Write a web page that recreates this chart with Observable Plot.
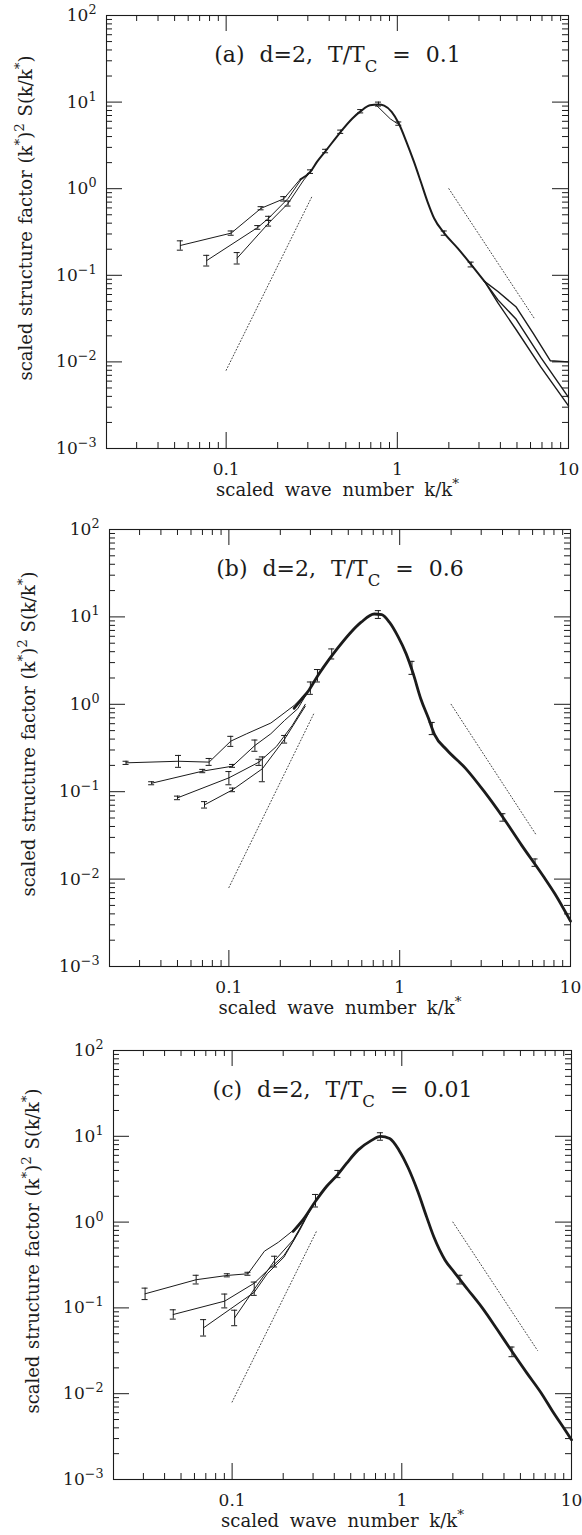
<!DOCTYPE html>
<html><head><meta charset="utf-8">
<script src="https://cdn.jsdelivr.net/npm/d3@7"></script>
<script src="https://cdn.jsdelivr.net/npm/@observablehq/plot@0.6"></script>
<style>
body{margin:0;background:#fff;}
#wrap{position:relative;width:582px;height:1535px;overflow:hidden;background:#fff;}
#wrap svg{position:absolute;left:0;}
</style></head><body><div id="wrap"></div>
<script>
// ---------- tick values ----------
const xMajor = [0.1, 1, 10];
const xMinor = [0.03,0.04,0.05,0.06,0.07,0.08,0.09,0.2,0.3,0.4,0.5,0.6,0.7,0.8,0.9,2,3,4,5,6,7,8,9];
const xTickLabels = ["0.1", "1", "10"];
const yMajor = [1e-3, 1e-2, 1e-1, 1, 10, 100];
const yTickLabels = ["10^{−3}", "10^{−2}", "10^{−1}", "10^{0}", "10^{1}", "10^{2}"];
const yMinor = [2e-3,3e-3,4e-3,5e-3,6e-3,7e-3,8e-3,9e-3,2e-2,3e-2,4e-2,5e-2,6e-2,7e-2,8e-2,9e-2,
  0.2,0.3,0.4,0.5,0.6,0.7,0.8,0.9,2,3,4,5,6,7,8,9,20,30,40,50,60,70,80,90];

// ---------- reference power laws (dotted) ----------
const guideLow = [[0.1, 0.008], [0.316, 0.8]];
const guideHigh = [[2, 1.0], [6.3, 0.032]];

// ---------- panel (a) ----------
const aBranch1 = [[0.054,0.221],[0.107,0.307],[0.160,0.594],[0.217,0.764],[0.272,1.30]];
const aBranch2 = [[0.077,0.148],[0.153,0.357],[0.177,0.456],[0.230,0.77],[0.272,1.25]];
const aBranch3 = [[0.116,0.158],[0.177,0.40],[0.230,0.676],[0.284,1.26],[0.311,1.57]];
const aMain = [[0.272,1.28],[0.311,1.57],[0.340,2.05],[0.381,2.72],[0.467,4.54],[0.546,6.46],[0.611,7.86],
  [0.692,9.2],[0.776,9.4],[0.838,9.1],[0.927,7.7],[1.02,5.66],[1.13,3.48],[1.25,2.05],[1.37,1.21],
  [1.50,0.71],[1.64,0.456],[1.88,0.307],[2.25,0.206],[2.70,0.133],[3.23,0.085]];
const aCoarse = [[0.75,9.3],[0.91,6.4],[1.02,5.5]];
const aTail1 = [[3.23,0.085],[3.87,0.065],[4.95,0.043],[6.25,0.021],[7.84,0.0103],[10,0.0100]];
const aTail2 = [[3.23,0.085],[3.87,0.052],[4.95,0.031],[6.9,0.0112],[10,0.0039]];
const aTail3 = [[3.23,0.085],[3.87,0.048],[4.95,0.0235],[6.9,0.0087],[10,0.0031]];
const aErr = [[0.054,0.195,0.25],[0.107,0.29,0.325],[0.160,0.57,0.62],[0.217,0.72,0.81],
  [0.077,0.128,0.17],[0.153,0.34,0.375],[0.177,0.43,0.48],[0.116,0.135,0.183],[0.177,0.37,0.43],
  [0.230,0.63,0.72],[0.311,1.5,1.65],[0.381,2.6,2.85],[0.467,4.35,4.75],[0.611,7.5,8.2],[0.776,9.0,10.0],
  [1.02,5.4,5.9],[1.88,0.29,0.325],[2.70,0.125,0.142]];

// ---------- panel (b) ----------
const bBranch1 = [[0.025,0.214],[0.0507,0.223],[0.0766,0.218],[0.1026,0.379],[0.127,0.46],[0.176,0.61],[0.202,0.746],[0.241,0.97],[0.267,1.18]];
const bBranch2 = [[0.0353,0.125],[0.0703,0.172],[0.105,0.196],[0.142,0.338],[0.176,0.46],[0.212,0.655],[0.253,0.89],[0.294,1.45]];
const bBranch3 = [[0.050,0.085],[0.100,0.144],[0.150,0.218],[0.190,0.33],[0.235,0.573],[0.280,1.0]];
const bBranch4 = [[0.072,0.0707],[0.105,0.105],[0.157,0.183],[0.212,0.40],[0.280,0.95]];
const bMain = [[0.241,0.90],[0.267,1.15],[0.294,1.45],[0.33,2.1],[0.36,2.7],[0.43,4.3],[0.512,6.5],[0.595,8.7],
  [0.71,10.8],[0.785,10.6],[0.87,8.7],[0.98,5.9],[1.09,3.8],[1.2,2.24],[1.33,1.15],[1.47,0.70],[1.6,0.45],[1.89,0.30],
  [2.43,0.185],[3.13,0.100],[4.02,0.051],[5.17,0.0245],[7.0,0.0105],[8.1,0.0068],[10,0.0033]];
const bErr = [[0.025,0.205,0.223],[0.0507,0.19,0.26],[0.0766,0.2,0.24],[0.1026,0.33,0.43],
  [0.0353,0.12,0.13],[0.0703,0.165,0.18],[0.105,0.19,0.205],[0.142,0.29,0.39],
  [0.050,0.081,0.089],[0.100,0.12,0.17],[0.150,0.2,0.235],
  [0.072,0.065,0.077],[0.105,0.1,0.11],[0.157,0.13,0.25],[0.212,0.36,0.44],
  [0.30,1.3,1.8],[0.33,1.8,2.5],[0.40,3.3,4.3],[0.75,9.6,11.8],[1.18,2.2,3.1],[1.55,0.45,0.62],
  [4.02,0.046,0.056],[6.2,0.014,0.017]];

// ---------- panel (c) ----------
const cBranch1 = [[0.0307,0.146],[0.0614,0.213],[0.0937,0.239],[0.124,0.25],[0.155,0.458],[0.1875,0.583],[0.229,0.80],[0.267,1.12]];
const cBranch2 = [[0.045,0.0838],[0.0905,0.12],[0.135,0.194],[0.16,0.268],[0.202,0.408],[0.229,0.6],[0.267,1.05]];
const cBranch3 = [[0.0679,0.0586],[0.135,0.152],[0.161,0.25],[0.202,0.39],[0.25,0.8],[0.29,1.4]];
const cBranch4 = [[0.1035,0.0767],[0.135,0.165],[0.178,0.356],[0.229,0.62],[0.267,1.05]];
const cMain = [[0.229,0.78],[0.267,1.12],[0.31,1.75],[0.36,2.6],[0.42,3.6],[0.475,4.9],[0.552,6.9],
  [0.659,8.9],[0.748,10.0],[0.848,9.4],[0.962,6.9],[1.09,4.3],[1.24,2.3],[1.40,1.15],[1.55,0.66],[1.8,0.36],
  [2.04,0.26],[2.44,0.165],[2.98,0.100],[3.65,0.056],[4.46,0.031],[5.45,0.0175],[6.67,0.0100],[7.75,0.0062],[9.23,0.0037],[10,0.0029]];
const cErr = [[0.0307,0.125,0.17],[0.0614,0.19,0.24],[0.0937,0.23,0.25],[0.124,0.24,0.26],
  [0.045,0.074,0.095],[0.0905,0.1,0.145],[0.0679,0.047,0.073],[0.1035,0.062,0.094],
  [0.135,0.14,0.2],[0.178,0.3,0.4],[0.31,1.5,2.1],[0.748,9.0,11.0],[0.42,3.3,4.0],
  [2.2,0.19,0.24],[4.46,0.027,0.035]];

const panels = [
  {title:"(a) d=2, T/T_{C} = 0.1", top:0, height:512, mt:15, mb:64, ml:106, mr:14,
   branches:[aBranch1,aBranch2,aBranch3,aCoarse], main:aMain, mainWidth:2.0, tails:[aTail1,aTail2,aTail3], err:aErr},
  {title:"(b) d=2, T/T_{C} = 0.6", top:512, height:518, mt:17, mb:64, ml:109, mr:12,
   branches:[bBranch1,bBranch2,bBranch3,bBranch4], main:bMain, mainWidth:2.8, tails:[], err:bErr},
  {title:"(c) d=2, T/T_{C} = 0.01", top:1030, height:505, mt:20, mb:56, ml:113, mr:11,
   branches:[cBranch1,cBranch2,cBranch3,cBranch4], main:cMain, mainWidth:2.8, tails:[], err:cErr}
];

const xLabel = "scaled wave number k/k^{*}";
const yLabel = "scaled structure factor (k^{*})^{2} S(k/k^{*})";
const ink = "#1b1b1b";
const font = "DejaVu Serif";
const wordSpacing = new Map([[xLabel, "5px"], [yLabel, "1px"]]);
panels.forEach(p => wordSpacing.set(p.title, "8px"));

function toRows(list) {
  return list.flatMap((arr, i) => arr.map(([k, s]) => ({k, s, id: i})));
}

function richify(svg) {
  const ns = "http://www.w3.org/2000/svg";
  svg.querySelectorAll("text").forEach(t => {
    const s = t.textContent;
    if (wordSpacing.has(s)) t.style.wordSpacing = wordSpacing.get(s);
    if (!/[\^_]\{/.test(s)) return;
    t.textContent = "";
    const re = /([\^_])\{([^}]*)\}/g;
    let last = 0, m;
    while ((m = re.exec(s))) {
      if (m.index > last) t.appendChild(document.createTextNode(s.slice(last, m.index)));
      const ts = document.createElementNS(ns, "tspan");
      ts.setAttribute("baseline-shift", m[1] === "^" ? "super" : "sub");
      ts.setAttribute("font-size", "75%");
      ts.textContent = m[2];
      t.appendChild(ts);
      last = re.lastIndex;
    }
    if (last < s.length) t.appendChild(document.createTextNode(s.slice(last)));
  });
}

const wrap = document.getElementById("wrap");
for (const p of panels) {
  const ih = p.height - p.mt - p.mb;
  const iw = 582 - p.ml - p.mr;
  const major = 16, minor = 6;
  const svg = Plot.plot({
    width: 582, height: p.height,
    marginTop: p.mt, marginBottom: p.mb, marginLeft: p.ml, marginRight: p.mr,
    x: {type: "log", domain: [0.02, 10], axis: null},
    y: {type: "log", domain: [1e-3, 1e2], axis: null},
    style: {fontFamily: font, fontSize: "17px", color: ink, background: "white", overflow: "visible"},
    marks: [
      // frame ticks
      Plot.tickX(xMajor, {x: d => d, insetTop: ih - major, stroke: ink}),
      Plot.tickX(xMinor, {x: d => d, insetTop: ih - minor, stroke: ink}),
      Plot.tickX(xMajor, {x: d => d, insetBottom: ih - major, stroke: ink}),
      Plot.tickX(xMinor, {x: d => d, insetBottom: ih - minor, stroke: ink}),
      Plot.tickY(yMajor, {y: d => d, insetRight: iw - major, stroke: ink}),
      Plot.tickY(yMinor, {y: d => d, insetRight: iw - minor, stroke: ink}),
      Plot.tickY(yMajor, {y: d => d, insetLeft: iw - major, stroke: ink}),
      Plot.tickY(yMinor, {y: d => d, insetLeft: iw - minor, stroke: ink}),
      Plot.frame({stroke: ink, strokeWidth: 1.1}),
      // guides
      Plot.line(guideLow, {x: d => d[0], y: d => d[1], stroke: "#444", strokeWidth: 1, strokeDasharray: "1,2.2"}),
      Plot.line(guideHigh, {x: d => d[0], y: d => d[1], stroke: "#444", strokeWidth: 1, strokeDasharray: "1,2.2"}),
      // data
      Plot.line(toRows(p.branches), {x: "k", y: "s", z: "id", stroke: ink, strokeWidth: 1}),
      Plot.line(toRows(p.tails), {x: "k", y: "s", z: "id", stroke: ink, strokeWidth: 1.4}),
      Plot.line(p.main, {x: d => d[0], y: d => d[1], stroke: ink, strokeWidth: p.mainWidth, curve: "monotone-x"}),
      Plot.ruleX(p.err, {x: d => d[0], y1: d => d[1], y2: d => d[2], stroke: ink, strokeWidth: 1}),
      Plot.ruleY(p.err, {y: d => d[1], x1: d => d[0], x2: d => d[0], insetLeft: -3, insetRight: -3, stroke: ink, strokeWidth: 1}),
      Plot.ruleY(p.err, {y: d => d[2], x1: d => d[0], x2: d => d[0], insetLeft: -3, insetRight: -3, stroke: ink, strokeWidth: 1}),
      // labels
      Plot.text(xMajor, {x: d => d, frameAnchor: "bottom", lineAnchor: "middle", dy: 21, text: (d, i) => xTickLabels[i], fill: ink, fontSize: 17}),
      Plot.text(yMajor, {y: d => d, frameAnchor: "left", lineAnchor: "middle", dx: -10, textAnchor: "end", text: (d, i) => yTickLabels[i], fill: ink, fontSize: 17, letterSpacing: 0.8}),
      Plot.text([xLabel], {frameAnchor: "bottom", lineAnchor: "middle", textAnchor: "middle", dy: 42, text: d => d, fill: ink, fontSize: 18, letterSpacing: 1.5}),
      Plot.text([yLabel], {frameAnchor: "left", lineAnchor: "middle", textAnchor: "middle", rotate: -90, dx: -80, dy: -14, text: d => d, fill: ink, fontSize: 18, letterSpacing: 1.2}),
      Plot.text([p.title], {frameAnchor: "top", lineAnchor: "middle", textAnchor: "middle", dy: 39, text: d => d, fill: ink, fontSize: 22, letterSpacing: 3})
    ]
  });
  svg.style.top = p.top + "px";
  richify(svg);
  wrap.appendChild(svg);
}
</script></body></html>
